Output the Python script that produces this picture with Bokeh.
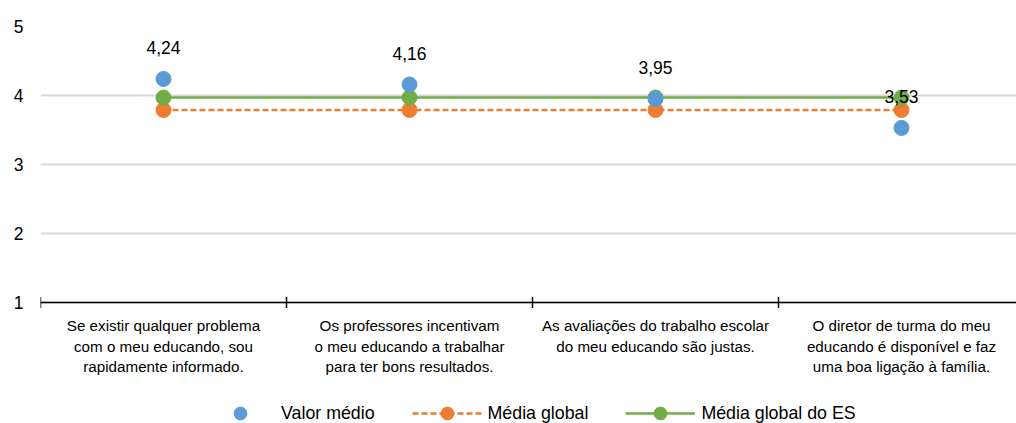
import math
from bokeh.plotting import figure
from bokeh.core.properties import value
from bokeh.models import (Range1d, FixedTicker, LabelSet, ColumnDataSource,
                          Legend, LegendItem, Span)
from bokeh.embed import file_html
from bokeh.resources import INLINE

categories = [
    ["Se existir qualquer problema", "com o meu educando, sou", "rapidamente informado."],
    ["Os professores incentivam", "o meu educando a trabalhar", "para ter bons resultados."],
    ["As avaliações do trabalho escolar", "do meu educando são justas."],
    ["O diretor de turma do meu", "educando é disponível e faz", "uma boa ligação à família."],
]
valor_medio = [4.24, 4.16, 3.95, 3.53]
media_global = [3.79, 3.79, 3.79, 3.79]
media_global_es = [3.97, 3.97, 3.97, 3.97]
y_ticks = [1, 2, 3, 4, 5]

FONT = "Liberation Sans"
BLUE = "#5B9BD5"
ORANGE = "#ED7D31"
GREEN = "#70AD47"

W, H = 1016, 423
LEFT, TOP = 40, 26          # frame left / top in px
PX_PER_UNIT = 69
CAT_W = 246

n = len(categories)
xs = [i + 0.5 for i in range(n)]
bounds = list(range(n + 1))
ymin, ymax = y_ticks[0], y_ticks[-1]
axis_px = TOP + (ymax - ymin) * PX_PER_UNIT

src = ColumnDataSource(dict(
    x=xs, vm=valor_medio, mg=media_global, mges=media_global_es,
    lbl=[f"{v:.2f}".replace(".", ",") for v in valor_medio],
))
# one row per label line (centered lines, 20.5 px apart)
cx, cy, ct, co = [], [], [], []
for x, lines in zip(xs, categories):
    for j, line in enumerate(lines):
        cx.append(x); cy.append(ymin); ct.append(line); co.append(-(23 + 20.5 * j))
cat_src = ColumnDataSource(dict(x=cx, y=cy, text=ct, off=co))
tick_src = ColumnDataSource(dict(x=bounds, y=[ymin] * len(bounds)))

p = figure(width=W, height=H, output_backend="svg", toolbar_location=None,
           x_range=Range1d(0, (W - LEFT) / CAT_W),
           y_range=Range1d(ymin - (H - axis_px) / PX_PER_UNIT, ymax),
           min_border_left=LEFT, min_border_right=0, min_border_top=TOP,
           min_border_bottom=0)
p.outline_line_color = None
p.background_fill_color = "white"
p.border_fill_color = "white"
p.xaxis.visible = False

# y axis
p.yaxis.ticker = FixedTicker(ticks=y_ticks)
p.yaxis.axis_line_color = None
p.yaxis.major_tick_line_color = None
p.yaxis.major_tick_out = 0
p.yaxis.major_tick_in = 0
p.yaxis.minor_tick_line_color = None
p.yaxis.major_label_standoff = 17
p.yaxis.major_label_text_font = FONT
p.yaxis.major_label_text_font_size = "17.5px"
p.yaxis.major_label_text_color = "#000000"
p.ygrid.ticker = FixedTicker(ticks=y_ticks)
p.ygrid.grid_line_color = "#D9D9D9"
p.ygrid.grid_line_width = 2
p.xgrid.grid_line_color = None

# category axis line with boundary tick marks
p.add_layout(Span(location=ymin, dimension="width", line_color="black", line_width=1.5))
p.scatter("x", "y", source=tick_src, marker="dash", size=11, angle=math.pi / 2,
          line_color="black", line_width=1.5)

cat_labels = LabelSet(x="x", y="y", text="text", source=cat_src, y_offset="off",
                      text_align="center", text_baseline="middle",
                      text_font=value(FONT), text_font_size=value("15.2px"),
                      text_color="#000000")
p.add_layout(cat_labels)

r_mg_line = p.line("x", "mg", source=src, color=ORANGE, line_width=2.5, line_dash="6 3")
r_mg_pts = p.scatter("x", "mg", source=src, size=15, color=ORANGE)
r_es_line = p.line("x", "mges", source=src, color=GREEN, line_width=2.5)
r_es_pts = p.scatter("x", "mges", source=src, size=15, color=GREEN)
r_vm = p.scatter("x", "vm", source=src, size=15, color=BLUE)

labels = LabelSet(x="x", y="vm", text="lbl", source=src, y_offset=31,
                  text_align="center", text_baseline="middle",
                  text_font=value(FONT), text_font_size=value("17.5px"),
                  text_color="#000000")
p.add_layout(labels)

legend = Legend(items=[
    LegendItem(label="Valor médio", renderers=[r_vm]),
    LegendItem(label="Média global", renderers=[r_mg_line, r_mg_pts]),
    LegendItem(label="Média global do ES", renderers=[r_es_line, r_es_pts]),
], orientation="horizontal", location=(165, -6))
legend.label_text_font = FONT
legend.label_text_font_size = "17.8px"
legend.label_text_color = "#000000"
legend.glyph_width = 70
legend.glyph_height = 32
legend.label_standoff = 6
legend.spacing = 37
legend.padding = 0
legend.margin = 0
legend.border_line_color = None
legend.background_fill_alpha = 0
p.add_layout(legend)

open("out.html", "w").write(file_html(p, INLINE))
